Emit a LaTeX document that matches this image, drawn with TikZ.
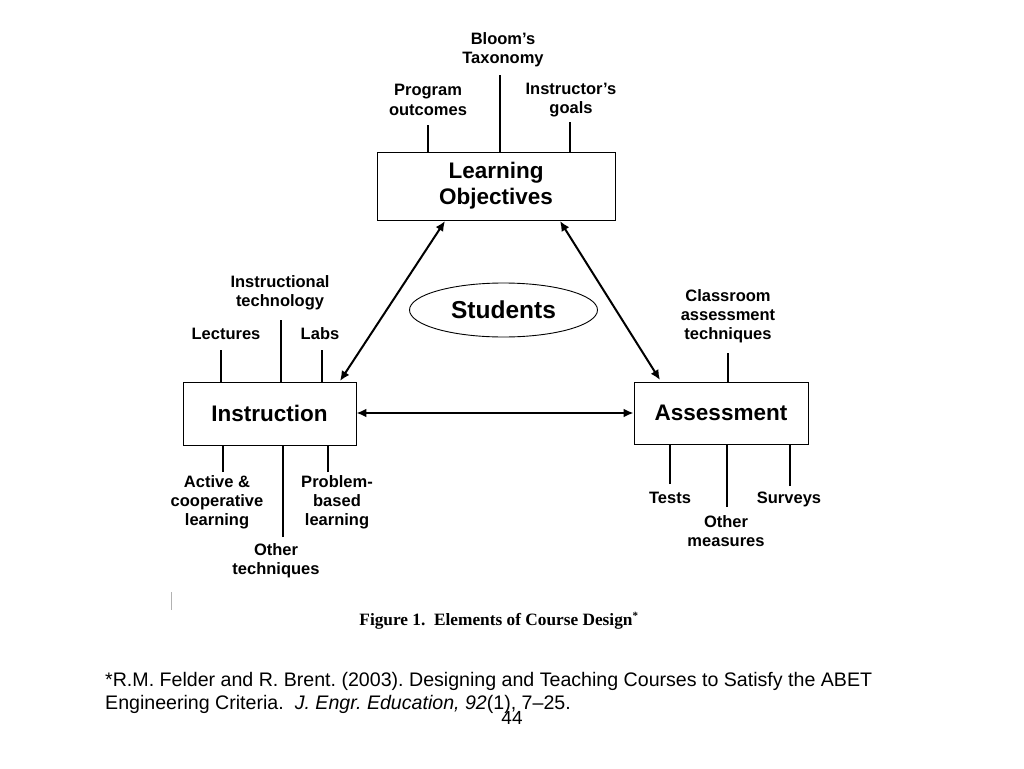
\documentclass[tikz,border=0pt]{standalone}
\usepackage{fontspec}
\setmainfont{Liberation Sans}
\newfontfamily\serifcap{Liberation Serif}
\usetikzlibrary{shapes.geometric,arrows.meta}
\frenchspacing
\tikzset{
  mainbox/.style={draw,line width=0.9pt,font=\bfseries\fontsize{22.5}{26}\selectfont,align=center,inner sep=0pt},
  lbl/.style={font=\bfseries\fontsize{16.5}{19.2}\selectfont,align=center,inner sep=0pt},
  tick/.style={line width=1.6pt},
  dbl/.style={line width=2pt,{Latex[length=10pt,width=9pt]}-{Latex[length=10pt,width=9pt]}}
}
\begin{document}
\begin{tikzpicture}[x=1pt,y=-1pt]
\useasboundingbox (0,0) rectangle (1024,768);
% main boxes
\node[mainbox,minimum width=238pt,minimum height=68pt] (lo) at (496,186) {Learning\\Objectives};
\node[mainbox,minimum width=173pt,minimum height=63pt] (ins) at (269.5,413.5) {Instruction};
\node[mainbox,minimum width=174pt,minimum height=62pt] (ass) at (721,413) {Assessment};
\node[draw,line width=0.9pt,ellipse,minimum width=188pt,minimum height=54pt,inner sep=0pt,font=\bfseries\fontsize{24.5}{28}\selectfont] (stu) at (503.5,310) {Students};
% labels LO
\node[lbl] (bloom) at (503,50) {Bloom's\\Taxonomy};
\node[lbl] (prog) at (428,100) {Program\\outcomes};
\node[lbl] (goals) at (571,100) {Instructor's\\goals};
\coordinate (bloomE) at (500,75);
\coordinate (progE) at (428,125);
\coordinate (goalsE) at (570,122);
\draw[tick] (bloomE) -- (bloomE |- lo.north);
\draw[tick] (progE) -- (progE |- lo.north);
\draw[tick] (goalsE) -- (goalsE |- lo.north);
% labels Instruction
\node[lbl] (itech) at (280,293) {Instructional\\technology};
\node[lbl,anchor=base] (lect) at (226,339) {Lectures};
\node[lbl,anchor=base] (labs) at (320,339) {Labs};
\node[lbl] (active) at (217,502) {Active \&\\cooperative\\learning};
\node[lbl] (other) at (276,561) {Other\\techniques};
\node[lbl] (pbl) at (337,502) {Problem-\\based\\learning};
\coordinate (itechE) at (281,320);
\coordinate (lectE) at (221,350);
\coordinate (labsE) at (322,350);
\coordinate (activeE) at (223,472);
\coordinate (otherE) at (283,537);
\coordinate (pblE) at (328,472);
\draw[tick] (itechE) -- (itechE |- ins.north);
\draw[tick] (lectE) -- (lectE |- ins.north);
\draw[tick] (labsE) -- (labsE |- ins.north);
\draw[tick] (activeE) -- (activeE |- ins.south);
\draw[tick] (otherE) -- (otherE |- ins.south);
\draw[tick] (pblE) -- (pblE |- ins.south);
% labels Assessment
\node[lbl] (cat) at (728,316) {Classroom\\assessment\\techniques};
\node[lbl,anchor=base] (tests) at (670,503) {Tests};
\node[lbl] (omeas) at (726,531) {Other\\measures};
\node[lbl,anchor=base] (surv) at (789,503) {Surveys};
\coordinate (catE) at (728,353);
\coordinate (testsE) at (670,484);
\coordinate (omeasE) at (727,507);
\coordinate (survE) at (790,486);
\draw[tick] (catE) -- (catE |- ass.north);
\draw[tick] (testsE) -- (testsE |- ass.south);
\draw[tick] (omeasE) -- (omeasE |- ass.south);
\draw[tick] (survE) -- (survE |- ass.south);
% arrows
\coordinate (a1) at (445,221);
\coordinate (a2) at (340,381);
\coordinate (b1) at (560,221);
\coordinate (b2) at (660,380);
\draw[dbl] (a1) -- (a2);
\draw[dbl] (b1) -- (b2);
\draw[dbl] (ins.east |- 0,413) -- (ass.west |- 0,413);
% caption
\draw[gray!60,line width=0.8pt] (171,592) -- (171,610);
\node[font=\serifcap\bfseries\fontsize{17.3}{20}\selectfont,inner sep=0pt] (cap) at (499,621) {Figure 1.\ \ Elements of Course Design\textsuperscript{\fontsize{11}{11}\selectfont *}};
% footnote
\node[font=\fontsize{19.6}{23.5}\selectfont,anchor=north west,align=left,inner sep=0pt] (fn) at (105,672) {*R.M. Felder and R. Brent. (2003). Designing and Teaching Courses to Satisfy the ABET\\Engineering Criteria.\ \ \textit{J. Engr. Education, 92}(1), 7--25.};
\node[font=\fontsize{19}{22}\selectfont,inner sep=0pt] (pg) at (512,718) {44};
\end{tikzpicture}
\end{document}
